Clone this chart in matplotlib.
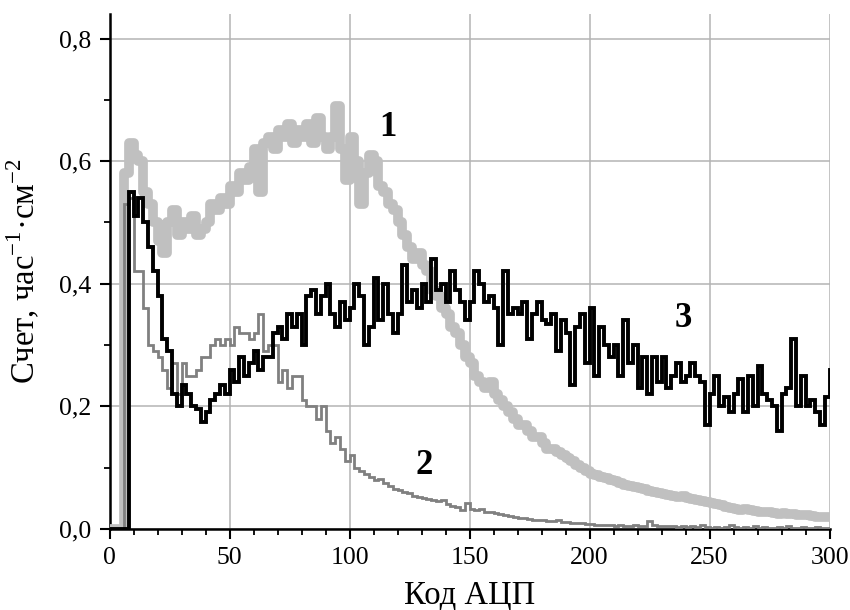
import numpy as np
import matplotlib
matplotlib.use("agg")
import matplotlib.pyplot as plt
from matplotlib.ticker import MultipleLocator, FuncFormatter

plt.rcParams['font.family'] = ['Liberation Serif', 'DejaVu Serif']
plt.rcParams['mathtext.fontset'] = 'custom'
plt.rcParams['mathtext.rm'] = 'Liberation Serif'

# bin width 2 ADC codes, bins start at 0 (last bin at 300 is cut by the axis)
bin_width = 2

curve1 = [0, 0, 0, 0.58, 0.63, 0.61, 0.6, 0.55, 0.53, 0.5, 0.47, 0.45, 0.5, 0.52, 0.48, 0.5, 0.49, 0.51, 0.48, 0.49,
          0.5, 0.53, 0.52, 0.54, 0.53, 0.56, 0.55, 0.58, 0.57, 0.59, 0.62, 0.55, 0.63, 0.64, 0.62, 0.65, 0.64, 0.66, 0.63, 0.65,
          0.64, 0.66, 0.63, 0.67, 0.64, 0.62, 0.64, 0.69, 0.62, 0.57, 0.64, 0.6, 0.53, 0.58, 0.61, 0.6, 0.56, 0.55, 0.53, 0.52,
          0.5, 0.48, 0.46, 0.44, 0.45, 0.43, 0.42, 0.39, 0.38, 0.36, 0.35, 0.33, 0.32, 0.3, 0.28, 0.27, 0.25, 0.24, 0.23, 0.24,
          0.22, 0.21, 0.2, 0.19, 0.18, 0.17, 0.17, 0.16, 0.15, 0.15, 0.14, 0.13, 0.13, 0.125, 0.12, 0.115, 0.11, 0.105, 0.1, 0.095,
          0.09, 0.088, 0.085, 0.083, 0.08, 0.078, 0.075, 0.072, 0.07, 0.068, 0.067, 0.065, 0.062, 0.06, 0.058, 0.057, 0.055, 0.054, 0.052, 0.053,
          0.05, 0.048, 0.047, 0.046, 0.044, 0.042, 0.04, 0.039, 0.036, 0.034, 0.033, 0.031, 0.032, 0.03, 0.029, 0.028, 0.027, 0.028, 0.026, 0.025,
          0.026, 0.025, 0.024, 0.023, 0.022, 0.022, 0.021, 0.02, 0.02, 0.019,
          0.02]

curve2 = [0, 0, 0, 0.53, 0.54, 0.42, 0.42, 0.36, 0.3, 0.29, 0.28, 0.26, 0.23, 0.27, 0.22, 0.27, 0.25, 0.25, 0.26, 0.28,
          0.28, 0.3, 0.31, 0.3, 0.31, 0.3, 0.33, 0.32, 0.32, 0.31, 0.32, 0.35, 0.29, 0.3, 0.3, 0.24, 0.26, 0.23, 0.25, 0.25,
          0.21, 0.2, 0.2, 0.18, 0.2, 0.16, 0.14, 0.15, 0.13, 0.11, 0.12, 0.1, 0.095, 0.09, 0.085, 0.08, 0.082, 0.075, 0.07, 0.065,
          0.063, 0.06, 0.058, 0.054, 0.052, 0.05, 0.048, 0.047, 0.045, 0.047, 0.04, 0.038, 0.036, 0.03, 0.042, 0.033, 0.03, 0.032, 0.028, 0.027,
          0.026, 0.024, 0.022, 0.021, 0.02, 0.018, 0.017, 0.016, 0.015, 0.015, 0.014, 0.013, 0.013, 0.014, 0.012, 0.011, 0.01, 0.009, 0.009, 0.008,
          0.008, 0.007, 0.007, 0.006, 0.006, 0.005, 0.006, 0.005, 0.005, 0.006, 0.005, 0.004, 0.013, 0.006, 0.004, 0.004, 0.005, 0.004, 0.003, 0.004,
          0.003, 0.004, 0.003, 0.006, 0.003, 0.002, 0.003, 0.002, 0.003, 0.007, 0.003, 0.002, 0.003, 0.002, 0.005, 0.002, 0.003, 0.002, 0.002, 0.003,
          0.002, 0.004, 0.002, 0.002, 0.003, 0.002, 0.002, 0.003, 0.002, 0.002,
          0.002]

curve3 = [0, 0, 0, 0, 0.55, 0.51, 0.54, 0.5, 0.46, 0.42, 0.38, 0.31, 0.29, 0.22, 0.2, 0.235, 0.22, 0.2, 0.195, 0.175,
          0.19, 0.21, 0.22, 0.235, 0.22, 0.26, 0.24, 0.28, 0.25, 0.27, 0.29, 0.26, 0.28, 0.28, 0.32, 0.33, 0.31, 0.35, 0.33, 0.35,
          0.3, 0.38, 0.39, 0.35, 0.38, 0.4, 0.35, 0.33, 0.37, 0.34, 0.36, 0.4, 0.38, 0.3, 0.33, 0.41, 0.34, 0.4, 0.35, 0.32,
          0.35, 0.43, 0.37, 0.39, 0.36, 0.4, 0.37, 0.44, 0.39, 0.4, 0.37, 0.42, 0.39, 0.37, 0.34, 0.37, 0.42, 0.4, 0.37, 0.38,
          0.36, 0.3, 0.42, 0.35, 0.36, 0.35, 0.37, 0.31, 0.35, 0.37, 0.34, 0.335, 0.35, 0.29, 0.34, 0.32, 0.235, 0.33, 0.35, 0.27,
          0.36, 0.25, 0.33, 0.3, 0.28, 0.3, 0.25, 0.34, 0.27, 0.3, 0.23, 0.28, 0.22, 0.28, 0.24, 0.28, 0.23, 0.25, 0.27, 0.24,
          0.25, 0.27, 0.25, 0.24, 0.17, 0.22, 0.25, 0.2, 0.215, 0.19, 0.22, 0.245, 0.19, 0.25, 0.2, 0.265, 0.22, 0.21, 0.2, 0.16,
          0.22, 0.23, 0.31, 0.2, 0.25, 0.2, 0.21, 0.19, 0.17, 0.215,
          0.26]

labels = ["1", "2", "3"]
label_pos = [(116, 0.655), (131, 0.104), (239, 0.344)]

fig = plt.figure(figsize=(8.5, 6.1), dpi=100)
ax = fig.add_axes([0.129, 0.133, 0.847, 0.844])

edges = np.arange(len(curve1) + 1) * bin_width
ax.stairs(curve1, edges, color="#c0c0c0", linewidth=7, joinstyle="round", capstyle="round", zorder=3)
ax.stairs(curve2, edges, color="#808080", linewidth=2.0, zorder=4)
ax.stairs(curve3, edges, color="black", linewidth=2.8, zorder=5)

for t, (x, y) in zip(labels, label_pos):
    ax.text(x, y, t, fontsize=25, fontweight="bold", ha="center", va="center", zorder=6)

ax.set_xlim(0, 300)
ax.set_ylim(0, 0.84)
ax.xaxis.set_major_locator(MultipleLocator(50))
ax.xaxis.set_minor_locator(MultipleLocator(10))
ax.yaxis.set_major_locator(MultipleLocator(0.2))
ax.yaxis.set_minor_locator(MultipleLocator(0.1))
ax.yaxis.set_major_formatter(FuncFormatter(lambda v, p: f"{v:.1f}".replace(".", ",")))
ax.grid(True, which="major", color="#b4b4b4", linewidth=1.1, zorder=0)
ax.set_axisbelow(True)

for s in ["top", "right"]:
    ax.spines[s].set_visible(False)
for s in ["left", "bottom"]:
    ax.spines[s].set_linewidth(1.8)
ax.tick_params(which="major", direction="out", length=7, width=1.5, labelsize=18.5, pad=6)
ax.tick_params(which="minor", direction="out", length=4.5, width=1.3)

ax.set_xlabel("Код АЦП", fontsize=23.5, labelpad=8)
ax.set_ylabel(r"Счет, час$^{-1}$·см$^{-2}$", fontsize=23.5, labelpad=12)

fig.savefig("out.png", dpi=100)
